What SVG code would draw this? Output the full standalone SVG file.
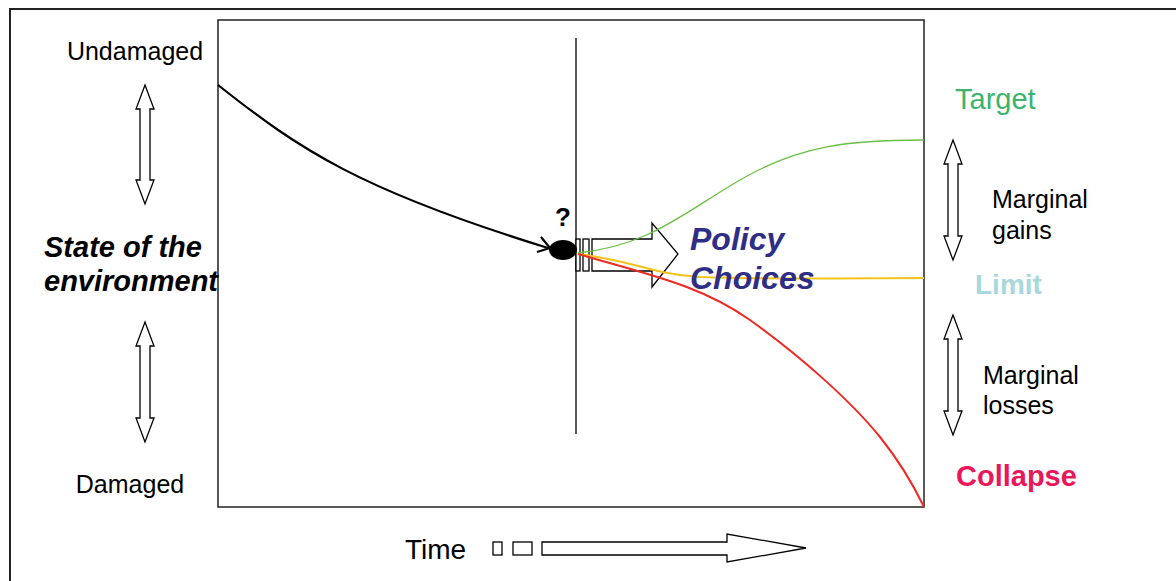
<svg xmlns="http://www.w3.org/2000/svg" width="1176" height="581" viewBox="0 0 1176 581">
<style>
.t{font-family:"Liberation Sans",Arial,sans-serif;fill:#000}
.b{font-weight:bold}
.bi{font-weight:bold;font-style:italic}
.ho{fill:#fff;stroke:#000;stroke-width:1.3}
</style>
<rect width="1176" height="581" fill="#fff"/>
<rect x="10" y="9" width="1180" height="590" fill="none" stroke="#222" stroke-width="2"/>
<g id="chart">
<rect x="218" y="20" width="706" height="487" fill="none" stroke="#222" stroke-width="1.5"/>
<line x1="576" y1="38" x2="576" y2="434" stroke="#000" stroke-width="1.3"/>
</g>
<g id="policy-arrow">
<rect class="ho" x="576" y="239" width="4" height="32"/>
<rect class="ho" x="583" y="239" width="6" height="32"/>
<path class="ho" d="M592,239 H652 V223 L678,254 L652,287 V271 H592 Z"/>
</g>
<g id="connectors" fill="none">
<path d="M218,85 C300,150 360,190 548,248" stroke="#000" stroke-width="2.2"/>
<path d="M541,237 L550,248 L537,252" stroke="#000" stroke-width="2.2"/>
<path d="M578,253 C650,245 680,215 740,180 C800,145 850,140 924,140" stroke="#6abf45" stroke-width="1.3"/>
<path d="M578,254 C640,262 650,274 700,277 C780,280 860,278 924,278" stroke="#f2c318" stroke-width="2"/>
<path d="M578,254 C650,275 700,285 750,320 C800,356 850,400 880,437 C900,462 912,482 924,507" stroke="#ee2a24" stroke-width="2"/>
</g>
<g id="point">
<ellipse cx="563" cy="250" rx="14" ry="10" fill="#000"/>
<text class="t b" x="563" y="226" font-size="26" text-anchor="middle">?</text>
</g>
<g id="policy-label">
<text class="t bi" x="690" y="250" font-size="32" style="fill:#2e2e86">Policy</text>
<text class="t bi" x="690" y="289" font-size="32" style="fill:#2e2e86">Choices</text>
</g>
<g id="left-arrows">
<path class="ho" d="M145,85 L154,109 H150 V180 H154 L145,204 L136,180 H140 V109 H136 Z"/>
<path class="ho" d="M145,322 L154,346 H150 V418 H154 L145,442 L136,418 H140 V346 H136 Z"/>
</g>
<g id="right-arrows">
<path class="ho" d="M953,140 L962,164 H958 V236 H962 L953,260 L944,236 H948 V164 H944 Z"/>
<path class="ho" d="M953,315 L962,339 H958 V411 H962 L953,435 L944,411 H948 V339 H944 Z"/>
</g>
<g id="labels-left">
<text class="t" x="135" y="60" font-size="25" text-anchor="middle">Undamaged</text>
<text class="t" x="130" y="493" font-size="25" text-anchor="middle">Damaged</text>
<text class="t bi" x="44" y="257" font-size="29">State of the</text>
<text class="t bi" x="44" y="291" font-size="29">environment</text>
</g>
<g id="labels-right">
<text class="t" x="955" y="109" font-size="29" style="fill:#3cb46e">Target</text>
<text class="t" x="992" y="208" font-size="25">Marginal</text>
<text class="t" x="992" y="239" font-size="25">gains</text>
<text class="t b" x="975" y="294" font-size="28" style="fill:#a9d8dc">Limit</text>
<text class="t" x="983" y="384" font-size="25">Marginal</text>
<text class="t" x="983" y="414" font-size="25">losses</text>
<text class="t b" x="956" y="486" font-size="29" style="fill:#e8185a">Collapse</text>
</g>
<g id="time">
<text class="t" x="405" y="559" font-size="28">Time</text>
<rect class="ho" x="493" y="542" width="9" height="13"/>
<rect class="ho" x="513" y="542" width="19" height="13"/>
<path class="ho" d="M542,542 H727 V534 L806,548 L727,562 V555 H542 Z"/>
</g>
</svg>
